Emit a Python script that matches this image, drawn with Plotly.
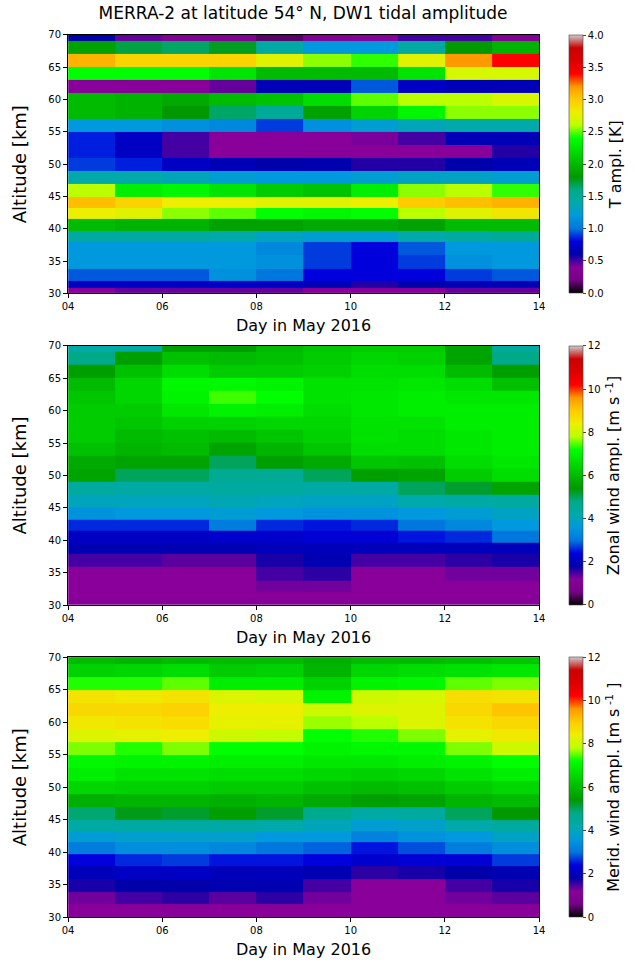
import plotly.graph_objects as go

# Day edges (one column per day, 4-14 May 2016)
day_edges = [4, 5, 6, 7, 8, 9, 10, 11, 12, 13, 14]
# Altitude edges of the model layers [km]
alt_edges = [30, 30.9, 32.0, 33.8, 35.9, 37.9, 39.7, 41.5, 43.2, 45, 47, 49,
             51, 53, 55, 57, 59, 61, 63, 65, 67, 69, 70]

day_ticks = [4, 6, 8, 10, 12, 14]
day_labels = ["04", "06", "08", "10", "12", "14"]
alt_ticks = [30, 35, 40, 45, 50, 55, 60, 65, 70]

# DW1 temperature amplitude [K], rows listed from the top layer (69-70 km) down
t_ampl = [
    [0.60, 0.45, 0.35, 0.35, 0.15, 0.35, 0.40, 0.50, 0.50, 0.35],
    [1.85, 1.70, 1.65, 1.75, 1.45, 1.20, 1.20, 1.45, 1.80, 1.95],
    [3.10, 2.95, 2.95, 2.95, 2.75, 2.55, 2.45, 2.75, 3.20, 3.40],
    [2.40, 2.40, 2.40, 2.25, 2.00, 2.00, 2.00, 2.25, 2.70, 2.70],
    [0.40, 0.40, 0.40, 0.45, 0.65, 0.65, 0.95, 0.70, 0.65, 0.65],
    [2.00, 1.95, 1.90, 2.00, 2.05, 2.20, 2.50, 2.60, 2.60, 2.70],
    [2.00, 1.95, 1.80, 1.65, 1.50, 1.85, 2.15, 2.35, 2.55, 2.55],
    [1.20, 1.20, 1.15, 1.10, 0.90, 1.15, 1.25, 1.35, 1.40, 1.40],
    [0.85, 0.70, 0.50, 0.40, 0.40, 0.40, 0.42, 0.50, 0.65, 0.65],
    [0.85, 0.70, 0.50, 0.40, 0.40, 0.40, 0.40, 0.40, 0.40, 0.55],
    [0.90, 0.85, 0.70, 0.65, 0.60, 0.62, 0.55, 0.55, 0.60, 0.65],
    [1.40, 1.40, 1.35, 1.25, 1.20, 1.20, 1.25, 1.30, 1.30, 1.25],
    [2.60, 2.30, 2.35, 2.25, 2.10, 2.05, 2.30, 2.55, 2.60, 2.45],
    [3.05, 2.95, 2.80, 2.80, 2.75, 2.75, 2.80, 3.00, 3.05, 3.10],
    [2.80, 2.75, 2.55, 2.50, 2.40, 2.35, 2.40, 2.60, 2.75, 2.85],
    [2.00, 1.95, 1.95, 1.85, 1.85, 1.90, 1.90, 1.85, 2.00, 2.00],
    [1.45, 1.45, 1.45, 1.40, 1.30, 1.25, 1.25, 1.40, 1.45, 1.50],
    [1.20, 1.20, 1.20, 1.20, 1.10, 0.90, 0.80, 0.95, 1.20, 1.20],
    [1.20, 1.20, 1.20, 1.20, 1.15, 0.90, 0.80, 0.90, 1.15, 1.20],
    [0.95, 0.95, 0.95, 1.15, 1.00, 0.80, 0.80, 0.80, 0.90, 0.95],
    [0.70, 0.70, 0.70, 0.72, 0.70, 0.65, 0.55, 0.60, 0.65, 0.65],
    [0.40, 0.45, 0.45, 0.45, 0.45, 0.40, 0.40, 0.40, 0.45, 0.45],
]

# DW1 zonal wind amplitude [m/s], top layer first
u_ampl = [
    [4.3, 4.3, 5.5, 5.5, 6.0, 6.2, 6.3, 6.3, 5.6, 4.4],
    [4.8, 5.5, 6.1, 6.0, 6.1, 6.3, 6.5, 6.4, 5.6, 4.8],
    [5.5, 6.1, 6.6, 6.3, 6.3, 6.4, 6.6, 6.6, 6.0, 5.5],
    [6.0, 6.5, 7.1, 7.1, 7.0, 6.7, 6.7, 6.8, 6.6, 6.1],
    [6.2, 6.5, 7.0, 7.4, 7.2, 6.7, 6.8, 6.9, 6.8, 6.8],
    [6.3, 6.3, 6.8, 7.0, 6.9, 6.6, 6.8, 6.9, 6.9, 6.9],
    [6.3, 6.2, 6.4, 6.4, 6.5, 6.5, 6.7, 6.7, 6.9, 6.9],
    [6.3, 6.0, 6.1, 6.0, 6.2, 6.4, 6.7, 6.6, 6.8, 6.9],
    [6.1, 5.9, 6.0, 5.6, 5.9, 6.2, 6.6, 6.6, 6.8, 6.9],
    [5.7, 5.6, 5.6, 5.0, 5.5, 5.7, 6.2, 6.1, 6.6, 6.8],
    [5.6, 5.0, 5.0, 4.6, 4.6, 5.0, 5.5, 5.6, 6.3, 6.6],
    [4.4, 4.3, 4.3, 4.4, 4.4, 4.3, 4.3, 5.0, 5.2, 5.6],
    [4.0, 4.0, 4.0, 4.1, 4.0, 3.9, 3.9, 4.2, 4.3, 4.4],
    [3.5, 3.6, 3.6, 3.7, 3.6, 3.5, 3.5, 3.6, 3.7, 3.9],
    [2.6, 2.6, 2.6, 3.1, 2.6, 2.5, 2.6, 3.0, 3.3, 3.6],
    [2.1, 2.1, 2.1, 2.2, 2.2, 2.3, 2.3, 2.5, 2.6, 3.0],
    [1.9, 1.9, 1.9, 1.9, 2.0, 2.0, 2.0, 2.0, 2.0, 2.0],
    [1.5, 1.5, 1.4, 1.4, 1.7, 1.9, 1.5, 1.5, 1.6, 1.7],
    [1.2, 1.2, 1.2, 1.2, 1.5, 1.6, 1.2, 1.2, 1.3, 1.3],
    [1.2, 1.2, 1.2, 1.2, 1.3, 1.3, 1.2, 1.2, 1.2, 1.2],
    [1.2, 1.2, 1.2, 1.2, 1.2, 1.2, 1.2, 1.2, 1.2, 1.2],
    [1.1, 1.1, 1.1, 1.1, 1.1, 1.1, 1.1, 1.1, 1.1, 1.1],
]

# DW1 meridional wind amplitude [m/s], top layer first
v_ampl = [
    [6.0, 5.9, 6.0, 6.0, 6.0, 5.8, 6.0, 6.0, 6.1, 6.2],
    [6.4, 6.5, 6.6, 6.3, 6.4, 5.9, 6.5, 6.6, 6.7, 6.8],
    [7.3, 7.3, 7.5, 6.9, 6.9, 6.4, 7.0, 7.1, 7.5, 7.6],
    [8.6, 8.5, 8.6, 8.2, 8.1, 7.0, 8.0, 8.1, 8.7, 8.6],
    [8.8, 8.8, 8.9, 8.4, 8.4, 8.0, 8.2, 8.2, 8.8, 9.1],
    [8.5, 8.6, 8.7, 8.3, 8.3, 7.7, 7.8, 8.2, 8.6, 8.8],
    [8.2, 8.3, 8.4, 8.0, 7.9, 7.2, 7.3, 7.6, 8.3, 8.5],
    [7.6, 7.3, 7.6, 7.2, 7.2, 7.0, 7.1, 7.1, 7.6, 8.0],
    [7.1, 7.0, 7.0, 6.9, 6.9, 6.8, 6.8, 6.9, 7.0, 7.2],
    [6.9, 6.7, 6.7, 6.6, 6.6, 6.5, 6.4, 6.5, 6.7, 6.9],
    [6.5, 6.4, 6.4, 6.3, 6.3, 6.1, 6.0, 6.1, 6.3, 6.5],
    [5.8, 5.9, 5.9, 5.8, 5.9, 5.7, 5.5, 5.6, 5.9, 6.0],
    [4.9, 5.3, 5.2, 5.5, 5.2, 4.7, 4.3, 4.4, 5.0, 5.4],
    [4.3, 4.3, 4.3, 4.3, 4.2, 4.0, 3.7, 3.8, 4.2, 4.4],
    [3.7, 3.8, 3.8, 3.8, 3.6, 3.6, 3.2, 3.5, 3.6, 3.9],
    [3.1, 3.4, 3.4, 3.3, 3.0, 2.9, 2.5, 2.8, 3.1, 3.4],
    [2.4, 2.6, 2.7, 2.5, 2.5, 2.4, 2.2, 2.3, 2.3, 2.7],
    [2.0, 2.1, 2.1, 2.0, 2.0, 1.9, 1.6, 1.7, 1.8, 1.9],
    [1.7, 1.8, 1.8, 1.9, 1.9, 1.5, 1.2, 1.2, 1.5, 1.7],
    [1.3, 1.5, 1.6, 1.4, 1.6, 1.3, 1.2, 1.2, 1.3, 1.4],
    [1.2, 1.2, 1.2, 1.2, 1.2, 1.2, 1.2, 1.2, 1.2, 1.2],
    [1.2, 1.2, 1.2, 1.2, 1.2, 1.2, 1.2, 1.2, 1.2, 1.2],
]

# matplotlib "nipy_spectral" colour map
_r = [0, .4667, .5333, 0, 0, 0, 0, 0, 0, 0, 0, 0, 0, .7333, .9333, 1, 1, 1, .8667, .8, .8]
_g = [0, 0, 0, 0, 0, .4667, .6, .6667, .6667, .6, .7333, .8667, 1, 1, .9333, .8, .6, 0, 0, 0, .8]
_b = [0, .5333, .6, .6667, .8667, .8667, .8667, .6667, .5333, 0, 0, 0, 0, 0, 0, 0, 0, 0, 0, 0, .8]
nipy_spectral = [
    [i / 20, "rgb(%d,%d,%d)" % (round(r * 255), round(g * 255), round(b * 255))]
    for i, (r, g, b) in enumerate(zip(_r, _g, _b))
]

FONT = "DejaVu Sans"
W, H = 635, 966

# panel placement in pixels: (top, bottom)
panels = [(29.3, 291.0), (344.0, 606.7), (659.3, 922.7)]
x_left, x_right = 63.3, 543.3
cb_x = 574

datasets = [
    (t_ampl, 0, 4, [0, 0.5, 1, 1.5, 2, 2.5, 3, 3.5, 4],
     ["0.0", "0.5", "1.0", "1.5", "2.0", "2.5", "3.0", "3.5", "4.0"], "T ampl. [K]"),
    (u_ampl, 0, 12, [0, 2, 4, 6, 8, 10, 12], None,
     "Zonal wind ampl. [m s<sup> -1</sup>]"),
    (v_ampl, 0, 12, [0, 2, 4, 6, 8, 10, 12], None,
     "Merid. wind ampl. [m s<sup> -1</sup> ]"),
]

fig = go.Figure()
layout = dict(
    width=W, height=H,
    margin=dict(l=0, r=0, t=0, b=0),
    paper_bgcolor="white", plot_bgcolor="white",
    font=dict(family=FONT, color="black"),
    showlegend=False,
)

for i, ((z, zmin, zmax, cticks, ctext, ctitle), (top, bot)) in enumerate(zip(datasets, panels)):
    n = "" if i == 0 else str(i + 1)
    y0 = 1 - bot / H
    y1 = 1 - top / H
    fig.add_trace(go.Heatmap(
        x=day_edges, y=alt_edges, z=z[::-1],
        zmin=zmin, zmax=zmax, colorscale=nipy_spectral,
        xaxis="x" + n, yaxis="y" + n,
        hoverinfo="skip",
        colorbar=dict(
            x=cb_x / W, xanchor="left", xpad=0,
            y=(y0 + y1) / 2, yanchor="middle", len=(y1 - y0), lenmode="fraction",
            ypad=0, thickness=14, outlinewidth=0.6, outlinecolor="#444",
            tickvals=cticks, ticktext=ctext, ticks="outside", ticklen=3,
            tickfont=dict(size=10, family=FONT, color="black"),
            title=dict(text=ctitle, side="right", font=dict(size=16, family=FONT)),
        ),
    ))
    layout["xaxis" + n] = dict(
        domain=[x_left / W, x_right / W], anchor="y" + n,
        range=[4, 14], tickvals=day_ticks, ticktext=day_labels,
        ticks="outside", ticklen=4, tickwidth=1, tickcolor="black",
        showline=True, mirror=True, linecolor="black", linewidth=1,
        showgrid=False, zeroline=False,
        tickfont=dict(size=10, family=FONT),
        title=dict(text="Day in May 2016", font=dict(size=16, family=FONT), standoff=8),
    )
    layout["yaxis" + n] = dict(
        domain=[y0, y1], anchor="x" + n,
        range=[30, 70], tickvals=alt_ticks,
        ticks="outside", ticklen=4, tickwidth=1, tickcolor="black",
        showline=True, mirror=True, linecolor="black", linewidth=1,
        showgrid=False, zeroline=False,
        tickfont=dict(size=10, family=FONT),
        title=dict(text="Altitude [km]", font=dict(size=18, family=FONT), standoff=17),
    )

layout["title"] = dict(
    text="MERRA-2 at latitude 54° N, DW1 tidal amplitude",
    x=303 / W, xanchor="center", y=1 - 13 / H, yanchor="middle",
    font=dict(size=17, family=FONT, color="black"),
)
fig.update_layout(**layout)
fig.write_html("out.html")
